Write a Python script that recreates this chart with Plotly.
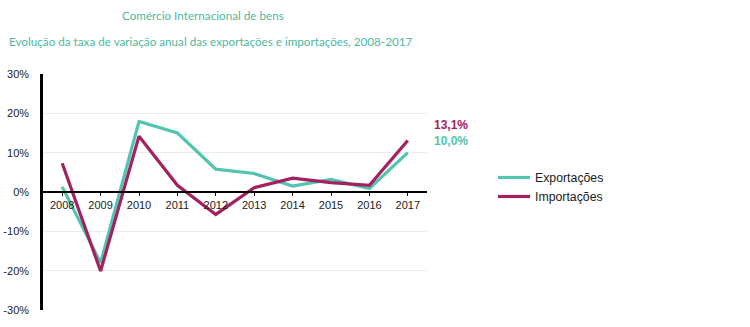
import plotly.graph_objects as go

years = ["2008", "2009", "2010", "2011", "2012", "2013", "2014", "2015", "2016", "2017"]
exportacoes = [1.3, -18.0, 17.9, 15.0, 5.8, 4.7, 1.5, 3.2, 0.9, 10.0]
importacoes = [7.3, -20.1, 14.2, 1.7, -5.7, 1.1, 3.5, 2.4, 1.7, 13.1]
y_ticks = [-30, -20, -10, 0, 10, 20, 30]
y_tick_labels = ["-30%", "-20%", "-10%", "0%", "10%", "20%", "30%"]

teal = "#52C4B0"
maroon = "#A3215F"
title_color = "#4DB9A1"

# plot area in pixels
L, R, T, B = 43, 427, 74, 310
W, H = R - L, B - T

def px_x(x):
    return (x - L) / W

def px_y(y):
    return (B - y) / H

fig = go.Figure()
fig.add_trace(go.Scatter(x=years, y=exportacoes, mode="lines", name="Exportações",
                         line=dict(color=teal, width=3.2)))
fig.add_trace(go.Scatter(x=years, y=importacoes, mode="lines", name="Importações",
                         line=dict(color=maroon, width=3.2)))

fig.update_layout(
    width=750, height=327,
    margin=dict(l=L, r=750 - R, t=T, b=327 - B, autoexpand=False),
    paper_bgcolor="white", plot_bgcolor="white",
    font=dict(family="Liberation Sans, Arial, sans-serif", size=11, color="#333333"),
    showlegend=True,
    legend=dict(x=px_x(493), y=px_y(163), xanchor="left", yanchor="top",
                font=dict(size=12.3, color="#222222"), tracegroupgap=4,
                itemwidth=32, bgcolor="rgba(0,0,0,0)"),
    xaxis=dict(type="category", range=[-0.5, 9.5], anchor="free", position=0.5,
               showline=True, linecolor="black", linewidth=2, automargin=False,
               ticks="outside", ticklen=3, tickcolor="black", tickwidth=1,
               showgrid=False, tickfont=dict(size=11, color="#222222"), fixedrange=True),
    yaxis=dict(range=[-30, 30], tickvals=y_ticks, ticktext=y_tick_labels,
               showline=True, linecolor="black", linewidth=2.5, automargin=False,
               showgrid=True, gridcolor="#EBEBEB", gridwidth=1,
               zeroline=False, ticks="", ticklabelstandoff=9,
               tickfont=dict(size=11, color="#222222")),
)

title_font = dict(family="Lato, Noto Sans, sans-serif", size=11.7, color=title_color)
fig.add_annotation(text="Comércio Internacional de bens", xref="paper", yref="paper",
                   x=px_x(203), y=px_y(15), xanchor="center", yanchor="middle",
                   showarrow=False, font=title_font)
fig.add_annotation(text="Evolução da taxa de variação anual das exportações e importações, 2008-2017",
                   xref="paper", yref="paper",
                   x=px_x(211), y=px_y(41), xanchor="center", yanchor="middle",
                   showarrow=False, font=title_font)

# End value labels
fig.add_annotation(text="<b>13,1%</b>", xref="paper", yref="paper", x=px_x(432), y=px_y(125),
                   xanchor="left", yanchor="middle", showarrow=False,
                   font=dict(size=12, color=maroon))
fig.add_annotation(text="<b>10,0%</b>", xref="paper", yref="paper", x=px_x(432), y=px_y(141),
                   xanchor="left", yanchor="middle", showarrow=False,
                   font=dict(size=12, color=teal))

fig.write_html("out.html")
